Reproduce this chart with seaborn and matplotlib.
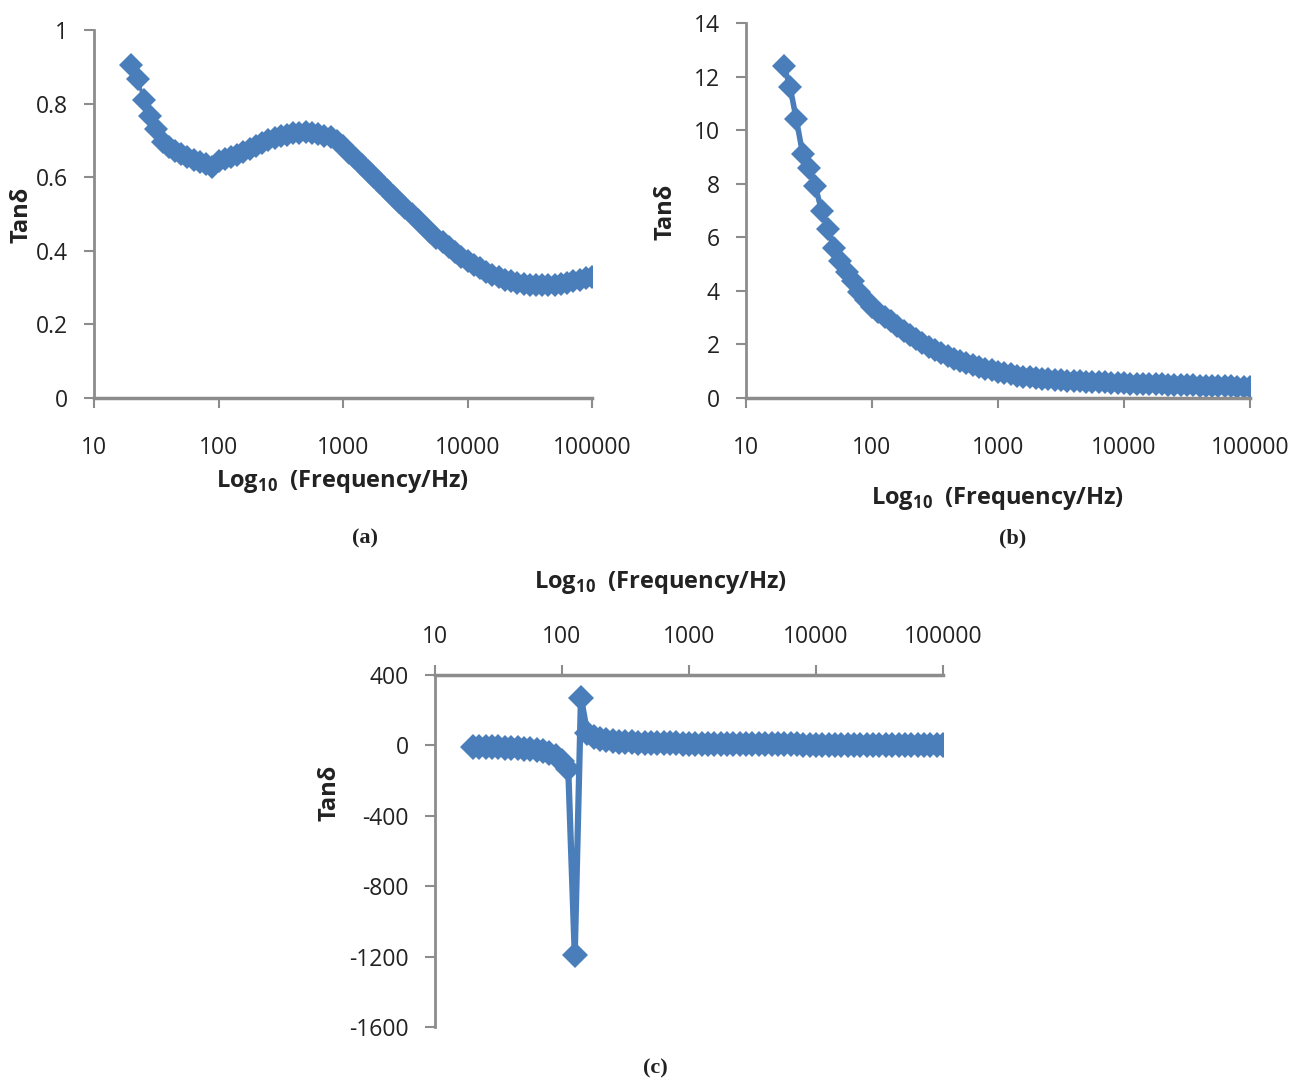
import numpy as np
import pandas as pd
import matplotlib
matplotlib.use("Agg")
import matplotlib.pyplot as plt
import seaborn as sns

# Frequências (Hz) - mesma varredura para os três gráficos
freq = [20.0, 22.4, 25.1, 28.2, 31.6, 35.5, 39.8, 44.7, 50.1, 56.2, 63.1, 70.8, 79.4, 89.1,
        100, 112, 126, 141, 158, 178, 200, 224, 251, 282, 316, 355, 398, 447, 501, 562, 631, 708, 794, 891,
        1000, 1120, 1260, 1410, 1580, 1780, 2000, 2240, 2510, 2820, 3160, 3550, 3980, 4470, 5010, 5620,
        6310, 7080, 7940, 8910,
        10000, 11200, 12600, 14100, 15800, 17800, 20000, 22400, 25100, 28200, 31600, 35500, 39800, 44700,
        50100, 56200, 63100, 70800, 79400, 89100,
        100000]

# (a)
tan_a = [0.905, 0.868, 0.810, 0.765, 0.732, 0.695, 0.682, 0.672, 0.664, 0.655, 0.646, 0.640, 0.636, 0.628,
         0.645, 0.650, 0.655, 0.660, 0.668, 0.676, 0.685, 0.693, 0.700, 0.706, 0.711, 0.716, 0.719, 0.721,
         0.722, 0.721, 0.718, 0.713, 0.708, 0.698,
         0.684, 0.667, 0.651, 0.634, 0.617, 0.600, 0.583, 0.566, 0.549, 0.533, 0.517, 0.500, 0.484, 0.467,
         0.451, 0.436, 0.423, 0.410, 0.397, 0.384,
         0.372, 0.362, 0.352, 0.343, 0.335, 0.328, 0.322, 0.317, 0.313, 0.310, 0.308, 0.307, 0.306, 0.307,
         0.308, 0.310, 0.313, 0.317, 0.321, 0.325,
         0.329]

# (b)
tan_b = [12.4, 11.6, 10.4, 9.1, 8.6, 7.9, 7.0, 6.3, 5.6, 5.1, 4.7, 4.35, 3.95, 3.65,
         3.4, 3.2, 3.02, 2.86, 2.7, 2.52, 2.37, 2.2, 2.04, 1.9, 1.78, 1.67, 1.56, 1.46, 1.38, 1.30,
         1.22, 1.15, 1.09, 1.03,
         0.98, 0.93, 0.88, 0.84, 0.80, 0.77, 0.74, 0.72, 0.70, 0.68, 0.66, 0.65, 0.63, 0.62, 0.61, 0.60,
         0.59, 0.58, 0.57, 0.56,
         0.55, 0.54, 0.535, 0.53, 0.52, 0.51, 0.505, 0.50, 0.49, 0.485, 0.48, 0.47, 0.465, 0.46,
         0.45, 0.445, 0.44, 0.43, 0.425, 0.42,
         0.41]

# (c)
tan_c = [-8, -8, -9, -10, -11, -12, -14, -16, -19, -22, -27, -34, -45, -62,
         -90, -135, -1190, 270, 70, 45, 34, 28, 24, 21, 19, 17, 16, 15, 14, 13, 12, 11.5, 11, 10.5,
         10, 9.5, 9, 8.5, 8, 8, 7.5, 7.5, 7, 7, 6.5, 6.5, 6, 6, 6, 5.5,
         5.5, 5.5, 5, 5,
         5, 5, 4.5, 4.5, 4.5, 4.5, 4, 4, 4, 4, 4, 3.5, 3.5, 3.5,
         3.5, 3.5, 3, 3, 3, 3,
         3]

xticks = [10, 100, 1000, 10000, 100000]
xtick_labels = ["10", "100", "1000", "10000", "100000"]

sns.set_theme(style="white")
plt.rcParams["font.family"] = ["Open Sans", "DejaVu Sans"]
plt.rcParams["mathtext.fontset"] = "custom"
plt.rcParams["mathtext.rm"] = "Open Sans"
plt.rcParams["mathtext.bf"] = "Open Sans:bold"
plt.rcParams["axes.unicode_minus"] = False

azul = "#4a7ebb"
cinza = "#8c8c8c"
W, H = 1307, 1079

fig = plt.figure(figsize=(13.07, 10.79), dpi=100)


def eixo(l, r, t, b):
    return fig.add_axes([l / W, 1 - b / H, (r - l) / W, (b - t) / H])


def estilo(ax, topo=False):
    ax.set_xscale("log")
    ax.set_xlim(10, 100000)
    ax.minorticks_off()
    ax.set_xticks(xticks)
    ax.set_xticklabels(xtick_labels)
    for s in ["top", "bottom", "left", "right"]:
        ax.spines[s].set_visible(False)
    ax.spines["left"].set_visible(True)
    lado = "top" if topo else "bottom"
    ax.spines[lado].set_visible(True)
    ax.spines["left"].set_color(cinza)
    ax.spines[lado].set_color(cinza)
    ax.spines["left"].set_linewidth(2)
    ax.spines[lado].set_linewidth(2.5)
    ax.tick_params(axis="both", direction="out", length=7, width=1.5, color=cinza,
                   labelsize=16.5, labelcolor="#222222")
    if topo:
        ax.xaxis.tick_top()
        ax.tick_params(axis="x", pad=12)
    else:
        ax.tick_params(axis="x", pad=20, bottom=True)
    ax.tick_params(axis="y", pad=12, left=True)
    ax.set_xlabel("")
    ax.set_ylabel("")
    ax.grid(False)


rotulo_x = r"Log$_{\mathbf{10}}$  (Frequency/Hz)"

# (a)
ax_a = eixo(94, 592, 30, 398)
sns.lineplot(x=freq, y=tan_a, ax=ax_a, color=azul, marker="D", markersize=12.5,
             markeredgewidth=0, linewidth=2.5)
estilo(ax_a)
ax_a.set_ylim(0, 1)
ax_a.set_yticks([0, 0.2, 0.4, 0.6, 0.8, 1])
ax_a.set_yticklabels(["0", "0.2", "0.4", "0.6", "0.8", "1"])

# (b)
ax_b = eixo(746, 1250, 23, 398)
sns.lineplot(x=freq, y=tan_b, ax=ax_b, color=azul, marker="D", markersize=12,
             markeredgewidth=0, linewidth=4)
estilo(ax_b)
ax_b.set_ylim(0, 14)
ax_b.set_yticks([0, 2, 4, 6, 8, 10, 12, 14])

# (c)
ax_c = eixo(435, 943, 675, 1027)
sns.lineplot(x=freq, y=tan_c, ax=ax_c, color=azul, marker="D", markersize=13.5,
             markeredgewidth=0, linewidth=4.5)
estilo(ax_c, topo=True)
ax_c.set_ylim(-1600, 400)
ax_c.set_yticks([400, 0, -400, -800, -1200, -1600])
ax_c.set_yticklabels(["400", "0", "-400", "-800", "-1200", "-1600"])

# textos
for (cx, cy) in [(343, 482), (998, 498), (661, 582)]:
    fig.text(cx / W, 1 - cy / H, rotulo_x, ha="center", va="center", fontsize=17, fontweight="bold",
             color="#222222")
for (cx, cy) in [(21, 215), (665, 212), (329, 793)]:
    fig.text(cx / W, 1 - cy / H, "Tanδ", ha="center", va="center", rotation=90, fontsize=17,
             fontweight="bold", color="#222222")
for (cx, cy, t) in [(365, 538, "(a)"), (1013, 538, "(b)"), (655, 1068, "(c)")]:
    fig.text(cx / W, 1 - cy / H, t, ha="center", va="center", fontsize=16, fontweight="bold",
             family="Liberation Serif", color="#222222")

plt.savefig("out.png", dpi=100, facecolor="white")
